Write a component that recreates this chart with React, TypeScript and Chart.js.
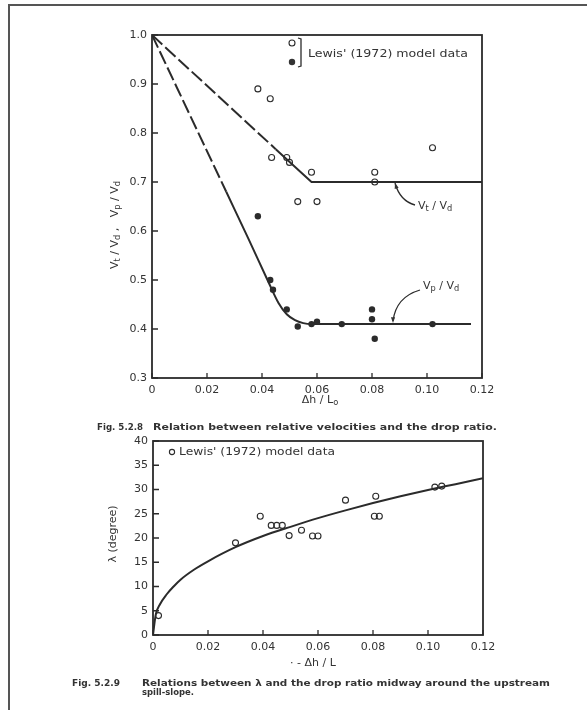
import React, { useEffect, useRef } from "react";
import { Chart, registerables } from "chart.js";

Chart.register(...registerables);

// ---------- Fig. 5.2.8 data ----------
const topXTicks = [0, 0.02, 0.04, 0.06, 0.08, 0.1, 0.12];
const topXLabels = ["0", "0.02", "0.04", "0.06", "0.08", "0.10", "0.12"];
const topYTicks = [0.3, 0.4, 0.5, 0.6, 0.7, 0.8, 0.9, 1.0];
const topYLabels = ["0.3", "0.4", "0.5", "0.6", "0.7", "0.8", "0.9", "1.0"];

const vtLineX = [0, 0.045, 0.058, 0.12];
const vtLineY = [1.0, 0.767, 0.7, 0.7];
const vpLineX = [0, 0.027, 0.035, 0.042, 0.046, 0.049, 0.052, 0.055, 0.058, 0.116];
const vpLineY = [1.0, 0.68, 0.585, 0.5, 0.453, 0.43, 0.418, 0.412, 0.41, 0.41];

const vtObsX = [0.0385, 0.043, 0.0435, 0.049, 0.05, 0.058, 0.053, 0.06, 0.081, 0.081, 0.102];
const vtObsY = [0.89, 0.87, 0.75, 0.75, 0.74, 0.72, 0.66, 0.66, 0.72, 0.7, 0.77];
const vpObsX = [0.0385, 0.043, 0.044, 0.049, 0.053, 0.058, 0.06, 0.069, 0.08, 0.08, 0.081, 0.102];
const vpObsY = [0.63, 0.5, 0.48, 0.44, 0.405, 0.41, 0.415, 0.41, 0.44, 0.42, 0.38, 0.41];

// ---------- Fig. 5.2.9 data ----------
const botXTicks = [0, 0.02, 0.04, 0.06, 0.08, 0.1, 0.12];
const botXLabels = ["0", "0.02", "0.04", "0.06", "0.08", "0.10", "0.12"];
const botYTicks = [0, 5, 10, 15, 20, 25, 30, 35, 40];
const botYLabels = ["0", "5", "10", "15", "20", "25", "30", "35", "40"];

const lamCurveX = [0, 0.001, 0.0025, 0.005, 0.0075, 0.01, 0.015, 0.02, 0.03, 0.04, 0.05, 0.06, 0.07, 0.08, 0.09, 0.1, 0.11, 0.12];
const lamCurveY = [0, 4.2, 6.3, 8.4, 10, 11.4, 13.5, 15.2, 18.1, 20.4, 22.3, 24.1, 25.7, 27.2, 28.6, 29.9, 31.1, 32.3];
const lamObsX = [0.002, 0.03, 0.039, 0.043, 0.045, 0.047, 0.0495, 0.054, 0.058, 0.06, 0.07, 0.081, 0.0805, 0.0823, 0.1025, 0.105];
const lamObsY = [4, 19, 24.5, 22.6, 22.6, 22.6, 20.5, 21.6, 20.4, 20.4, 27.8, 28.6, 24.5, 24.5, 30.5, 30.7];

const INK = "#2b2b2b";
const TEXT = "#333333";
const FONT = "DejaVu Sans";

const pts = (xs: number[], ys: number[]) => xs.map((x, i) => ({ x, y: ys[i] }));

type Run = [string, boolean];

function drawRuns(ctx: CanvasRenderingContext2D, runs: Run[], x: number, y: number, size: number, align: "left" | "center" = "left") {
  const sub = size * 0.75;
  let total = 0;
  for (const [t, s] of runs) {
    ctx.font = `${s ? sub : size}px ${FONT}`;
    total += ctx.measureText(t).width;
  }
  let cx = align === "center" ? x - total / 2 : x;
  ctx.textBaseline = "middle";
  ctx.textAlign = "left";
  for (const [t, s] of runs) {
    ctx.font = `${s ? sub : size}px ${FONT}`;
    ctx.fillText(t, cx, s ? y + size * 0.3 : y);
    cx += ctx.measureText(t).width;
  }
}

function fitText(ctx: CanvasRenderingContext2D, text: string, x: number, y: number, width: number, font: string) {
  ctx.save();
  ctx.font = font;
  ctx.textBaseline = "middle";
  ctx.textAlign = "left";
  const w = ctx.measureText(text).width;
  ctx.translate(x, y);
  ctx.scale(width / w, 1);
  ctx.fillText(text, 0, 0);
  ctx.restore();
}

function frameAndTicks(chart: any, xTicks: number[], yTicks: number[]) {
  const { ctx, chartArea: a, scales } = chart;
  ctx.save();
  ctx.strokeStyle = INK;
  ctx.lineWidth = 1.8;
  ctx.strokeRect(a.left, a.top, a.right - a.left, a.bottom - a.top);
  ctx.lineWidth = 1.3;
  ctx.beginPath();
  for (const v of xTicks) {
    const px = scales.x.getPixelForValue(v);
    ctx.moveTo(px, a.bottom);
    ctx.lineTo(px, a.bottom - 5);
  }
  for (const v of yTicks) {
    const py = scales.y.getPixelForValue(v);
    ctx.moveTo(a.left, py);
    ctx.lineTo(a.left + 6, py);
  }
  ctx.stroke();
  ctx.restore();
}

function arrowHead(ctx: CanvasRenderingContext2D, x: number, y: number, ang: number) {
  ctx.beginPath();
  ctx.moveTo(x, y);
  ctx.lineTo(x - 6 * Math.cos(ang - 0.35), y - 6 * Math.sin(ang - 0.35));
  ctx.lineTo(x - 6 * Math.cos(ang + 0.35), y - 6 * Math.sin(ang + 0.35));
  ctx.closePath();
  ctx.fill();
}

const topDecor = {
  id: "topDecor",
  afterDraw(chart: any) {
    const { ctx, chartArea: a } = chart;
    frameAndTicks(chart, topXTicks, topYTicks);
    ctx.save();
    ctx.fillStyle = TEXT;
    ctx.strokeStyle = INK;
    // legend
    ctx.lineWidth = 1.1;
    ctx.beginPath();
    ctx.arc(a.left + 140, a.top + 8, 3, 0, Math.PI * 2);
    ctx.stroke();
    ctx.beginPath();
    ctx.arc(a.left + 140, a.top + 27, 3.2, 0, Math.PI * 2);
    ctx.fill();
    ctx.lineWidth = 1.3;
    ctx.beginPath();
    ctx.moveTo(a.left + 146, a.top + 3);
    ctx.lineTo(a.left + 149, a.top + 4);
    ctx.lineTo(a.left + 149, a.top + 31);
    ctx.lineTo(a.left + 146, a.top + 32);
    ctx.stroke();
    fitText(ctx, "Lewis' (1972) model data", a.left + 156, a.top + 19, 160, `11px ${FONT}`);

    // curve labels
    drawRuns(ctx, [["V", false], ["t", true], [" / V", false], ["d", true]], a.left + 266, a.top + 171, 11);
    drawRuns(ctx, [["V", false], ["p", true], [" / V", false], ["d", true]], a.left + 271, a.top + 251, 11);
    ctx.lineWidth = 1.3;
    ctx.beginPath();
    ctx.moveTo(a.left + 243, a.top + 148);
    ctx.quadraticCurveTo(a.left + 248, a.top + 166, a.left + 263, a.top + 170);
    ctx.stroke();
    arrowHead(ctx, a.left + 243, a.top + 148, -Math.PI / 2 - 0.3);
    ctx.beginPath();
    ctx.moveTo(a.left + 268, a.top + 255);
    ctx.quadraticCurveTo(a.left + 244, a.top + 262, a.left + 241, a.top + 286);
    ctx.stroke();
    arrowHead(ctx, a.left + 241, a.top + 288, Math.PI / 2);

    // axis titles
    ctx.save();
    ctx.translate(a.left - 37, a.top + 190);
    ctx.rotate(-Math.PI / 2);
    drawRuns(ctx, [["V", false], ["t", true], [" / V", false], ["d", true], [" ,   V", false], ["p", true], [" / V", false], ["d", true]], 0, 0, 11, "center");
    ctx.restore();
    drawRuns(ctx, [["\u0394h / L", false], ["o", true]], a.left + 168, a.bottom + 22, 11, "center");

    // caption
    fitText(ctx, "Fig. 5.2.8", 97, 428, 46, `bold 9px ${FONT}`);
    fitText(ctx, "Relation between relative velocities and the drop ratio.", 153, 428, 344, `bold 9px ${FONT}`);
    ctx.restore();
  },
};

const botDecor = {
  id: "botDecor",
  afterDraw(chart: any) {
    const { ctx, chartArea: a } = chart;
    frameAndTicks(chart, botXTicks, botYTicks);
    ctx.save();
    ctx.fillStyle = TEXT;
    ctx.strokeStyle = INK;
    ctx.lineWidth = 1.1;
    ctx.beginPath();
    ctx.arc(a.left + 19, a.top + 11, 2.6, 0, Math.PI * 2);
    ctx.stroke();
    fitText(ctx, "Lewis' (1972) model data", a.left + 26, a.top + 11, 156, `11px ${FONT}`);

    ctx.save();
    ctx.translate(a.left - 40, a.top + 93);
    ctx.rotate(-Math.PI / 2);
    drawRuns(ctx, [["\u03bb (degree)", false]], 0, 0, 11, "center");
    ctx.restore();
    drawRuns(ctx, [["\u00b7 - \u0394h / L", false]], a.left + 160, a.bottom + 28, 11, "center");

    fitText(ctx, "Fig. 5.2.9", 72, 259, 48, `bold 9px ${FONT}`);
    fitText(ctx, "Relations between \u03bb and the drop ratio midway around the upstream", 142, 259, 408, `bold 9px ${FONT}`);
    fitText(ctx, "spill-slope.", 142, 268, 52, `bold 9px ${FONT}`);
    ctx.restore();
  },
};

function axisCfg(ticksArr: number[], labels: string[], min: number, max: number, isX: boolean) {
  return {
    type: "linear",
    min,
    max,
    grid: { display: false, drawTicks: false },
    border: { display: false },
    afterBuildTicks: (s: any) => {
      s.ticks = ticksArr.map((v) => ({ value: v }));
    },
    afterFit: (s: any) => {
      if (isX) s.height = 24;
      else s.width = 52;
    },
    ticks: {
      autoSkip: false,
      maxRotation: 0,
      padding: isX ? 6 : 5,
      color: TEXT,
      font: { family: FONT, size: 11 },
      callback: (v: number) => {
        const i = ticksArr.findIndex((t) => Math.abs(t - v) < 1e-9);
        return i >= 0 ? labels[i] : "";
      },
    },
  };
}

function useChart(ref: React.RefObject<HTMLCanvasElement>, build: () => any) {
  useEffect(() => {
    if (!ref.current) return;
    const c = new Chart(ref.current, build());
    return () => c.destroy();
  }, []);
}

export default function App() {
  const topRef = useRef<HTMLCanvasElement>(null);
  const botRef = useRef<HTMLCanvasElement>(null);

  useChart(topRef, () => ({
    type: "scatter",
    data: {
      datasets: [
        {
          data: pts(vtLineX, vtLineY),
          showLine: true,
          borderColor: INK,
          borderWidth: 2,
          pointRadius: 0,
          segment: { borderDash: (c: any) => (c.p0DataIndex === 0 ? [14, 4] : undefined) },
        },
        {
          data: pts(vpLineX, vpLineY),
          showLine: true,
          borderColor: INK,
          borderWidth: 2,
          pointRadius: 0,
          tension: 0.3,
          cubicInterpolationMode: "monotone",
          segment: { borderDash: (c: any) => (c.p0DataIndex === 0 ? [14, 4] : undefined) },
        },
        {
          data: pts(vtObsX, vtObsY),
          pointRadius: 3,
          pointBorderWidth: 1.1,
          pointBorderColor: INK,
          pointBackgroundColor: "rgba(255,255,255,0)",
        },
        {
          data: pts(vpObsX, vpObsY),
          pointRadius: 3.2,
          pointBorderWidth: 0,
          pointBackgroundColor: INK,
        },
      ],
    },
    options: {
      responsive: false,
      animation: false,
      layout: { padding: { left: 100, top: 35, right: 105, bottom: 38 } },
      plugins: { legend: { display: false }, tooltip: { enabled: false } },
      scales: {
        x: axisCfg(topXTicks, topXLabels, 0, 0.12, true),
        y: axisCfg(topYTicks, topYLabels, 0.3, 1.0, false),
      },
    },
    plugins: [topDecor],
  }));

  useChart(botRef, () => ({
    type: "scatter",
    data: {
      datasets: [
        {
          data: pts(lamCurveX, lamCurveY),
          showLine: true,
          borderColor: INK,
          borderWidth: 2,
          pointRadius: 0,
          cubicInterpolationMode: "monotone",
        },
        {
          data: pts(lamObsX, lamObsY),
          pointRadius: 3,
          pointBorderWidth: 1.1,
          pointBorderColor: INK,
          pointBackgroundColor: "rgba(255,255,255,0)",
        },
      ],
    },
    options: {
      responsive: false,
      animation: false,
      layout: { padding: { left: 101, top: 16, right: 104, bottom: 51 } },
      plugins: { legend: { display: false }, tooltip: { enabled: false } },
      scales: {
        x: axisCfg(botXTicks, botXLabels, 0, 0.12, true),
        y: axisCfg(botYTicks, botYLabels, 0, 40, false),
      },
    },
    plugins: [botDecor],
  }));

  return (
    <div style={{ position: "fixed", left: 0, top: 0, width: 587, height: 710, background: "#fff", overflow: "hidden" }}>
      <div style={{ position: "absolute", left: 8, top: 4, right: 0, bottom: 0, borderTop: "2px solid #555", borderLeft: "2px solid #555" }} />
      <canvas ref={topRef} width={587} height={440} style={{ position: "absolute", left: 0, top: 0, width: 587, height: 440 }} />
      <canvas ref={botRef} width={587} height={285} style={{ position: "absolute", left: 0, top: 425, width: 587, height: 285 }} />
    </div>
  );
}
